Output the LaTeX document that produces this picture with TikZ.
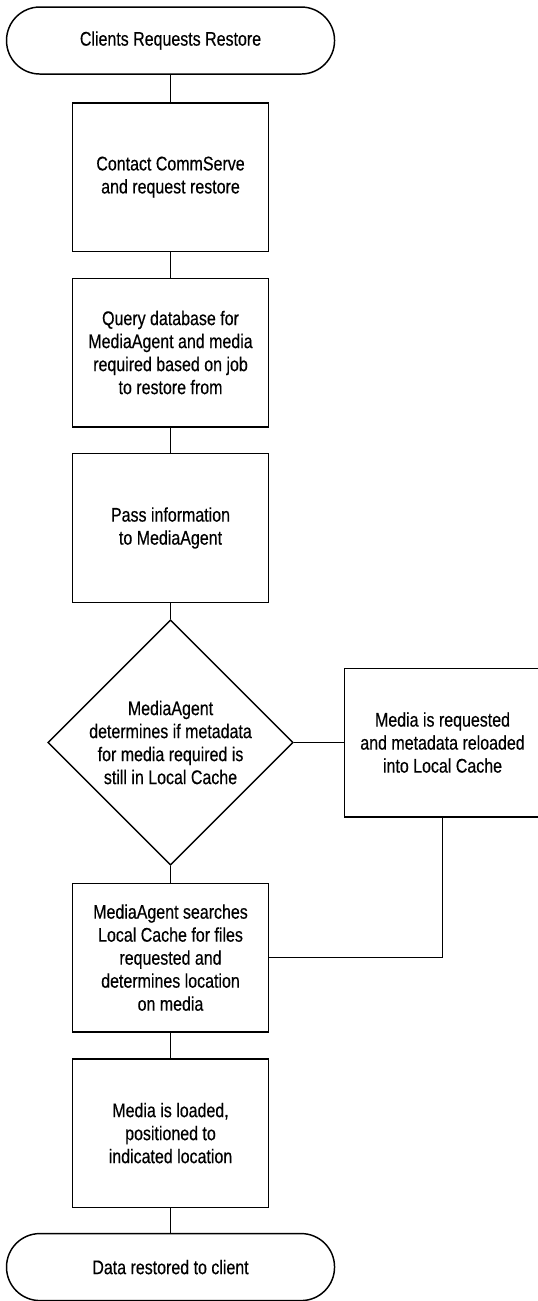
\documentclass[tikz,border=0pt]{standalone}
\usepackage{fontspec}
\setmainfont{Liberation Sans}[FakeStretch=0.81,FakeBold=0.4]
\usetikzlibrary{shapes.geometric}
\usetikzlibrary{positioning}

\tikzset{
  flowtext/.style={font=\fontsize{14.8}{17.25}\selectfont,align=center},
  terminal/.style={draw,flowtext,rounded corners=25pt,minimum width=246pt,minimum height=50.25pt},
  process/.style={draw,flowtext,minimum width=147pt,minimum height=111.4pt},
  decision/.style={draw,flowtext,diamond,aspect=1,minimum width=184pt,minimum height=184pt,inner sep=-10pt}
}

\begin{document}
\begin{tikzpicture}[node distance=131.6pt,on grid,line width=1.1pt]
    \useasboundingbox (0,0) rectangle (402.75pt,-975.75pt);
    % main column
    \node[terminal] (start)  at (127.9pt,-30.4pt)      {Clients Requests Restore};
    \node[process]  (contact) [below=102.4pt of start] {Contact CommServe\\and request restore};
    \node[process]  (query)   [below=of contact]       {Query database for\\MediaAgent and media\\required based on job\\to restore from};
    \node[process]  (pass)    [below=of query]         {Pass information\\to MediaAgent};
    \node[decision] (check)   [below=160.9pt of pass]  {MediaAgent\\determines if metadata\\for media required is\\still in Local Cache};
    \node[process]  (reload)  [right=204pt of check]   {Media is requested\\and metadata reloaded\\into Local Cache};
    \node[process]  (search)  [below=161.3pt of check] {MediaAgent searches\\Local Cache for files\\requested and\\determines location\\on media};
    \node[process]  (load)    [below=of search]        {Media is loaded,\\positioned to\\indicated location};
    \node[terminal] (finish)  [below=100.5pt of load]  {Data restored to client};
    \path (start)   edge (contact)
          (contact) edge (query)
          (query)   edge (pass)
          (pass)    edge (check)
          (check)   edge (reload)
                    edge (search)
          (search)  edge (load)
          (load)    edge (finish);
    % back from reload
    \draw (reload) |- (search);
\end{tikzpicture}
\end{document}
